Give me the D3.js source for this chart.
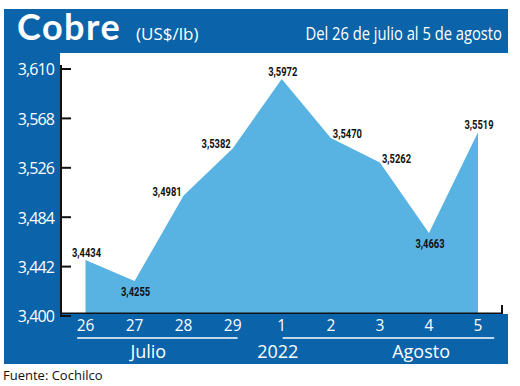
<!DOCTYPE html>
<html>
<head>
<meta charset="utf-8">
<script src="https://cdn.jsdelivr.net/npm/d3@7"></script>
<style>
  body { margin: 0; background: #fff; }
  text { font-family: "Open Sans", "Noto Sans", sans-serif; }
</style>
</head>
<body>
<div id="chart"></div>
<script>
var days = ["26", "27", "28", "29", "1", "2", "3", "4", "5"];
var prices = [3.4434, 3.4255, 3.4981, 3.5382, 3.5972, 3.5470, 3.5262, 3.4663, 3.5519];
var yTicks = [3.400, 3.442, 3.484, 3.526, 3.568, 3.610];
var groupLabels = ["Julio", "2022", "Agosto"];

var cfg = { width: 520, height: 386, blue: "#0b63aa", area: "#58b3e2" };

// where each value label sits relative to its point
var labelPos = ["above", "below", "left", "left", "above", "right", "right", "below", "above"];

var svg = d3.select("#chart").append("svg")
    .attr("width", cfg.width)
    .attr("height", cfg.height);

// blue frame: header, left column
svg.append("rect").attr("x", 4).attr("y", 9).attr("width", 504).attr("height", 44).attr("fill", cfg.blue);
svg.append("rect").attr("x", 4).attr("y", 9).attr("width", 56).attr("height", 355).attr("fill", cfg.blue);

var x = d3.scalePoint().domain(days).range([85.5, 478]);
// same range as x, but by index so that in-between spots can be used
var xi = d3.scaleLinear().domain([0, days.length - 1]).range([85.5, 478]);
var y = d3.scaleLinear().domain([3.400, 3.610]).range([311, 64]);
var fmt = function(v, n) { return d3.format("." + n + "f")(v).replace(".", ","); };

var area = d3.area()
    .x(function(d, i) { return x(days[i]); })
    .y0(314)
    .y1(function(d) { return y(d); });

svg.append("path")
    .datum(prices)
    .attr("d", area)
    .attr("fill", cfg.area);

// bottom axis line with small end tick
svg.append("path")
    .attr("d", "M60,313.5H502V305")
    .attr("fill", "none").attr("stroke", "#111").attr("stroke-width", 2);

// bottom band
svg.append("rect").attr("x", 4).attr("y", 314).attr("width", 504).attr("height", 50).attr("fill", cfg.blue);

// y axis (sits a few px lower than the plotted area, as in the original)
var yAxis = svg.append("g").attr("transform", "translate(61,5)");
yAxis.append("line").attr("x1", 0).attr("x2", 0).attr("y1", y(3.61) - 4).attr("y2", y(3.40))
    .attr("stroke", "#111").attr("stroke-width", 2);
yAxis.selectAll(".tick").data(yTicks).enter().append("line")
    .attr("x1", -1).attr("x2", 10)
    .attr("y1", function(d) { return y(d); }).attr("y2", function(d) { return y(d); })
    .attr("stroke", "#111").attr("stroke-width", 2);
yAxis.selectAll(".tl").data(yTicks).enter().append("text")
    .attr("x", -7).attr("y", function(d) { return y(d); })
    .attr("dy", "0.4em")
    .attr("text-anchor", "end")
    .attr("fill", "#fff")
    .style("font-size", "16px")
    .style("letter-spacing", "-0.9px")
    .text(function(d) { return fmt(d, 3); });

svg.selectAll(".day").data(days).enter().append("text")
    .attr("x", function(d) { return x(d); })
    .attr("y", 331)
    .attr("text-anchor", "middle")
    .attr("fill", "#fff")
    .style("font-size", "15.5px")
    .text(function(d) { return d; });

// month rules
svg.append("line").attr("x1", xi(-0.17)).attr("x2", xi(3.1)).attr("y1", 338).attr("y2", 338)
    .attr("stroke", "#fff").attr("stroke-width", 1.5);
svg.append("line").attr("x1", xi(4.02)).attr("x2", xi(8.33)).attr("y1", 338).attr("y2", 338)
    .attr("stroke", "#fff").attr("stroke-width", 1.5);

var groupAt = [1.28, 3.92, 6.84];
svg.selectAll(".grp").data(groupLabels).enter().append("text")
    .attr("x", function(d, i) { return xi(groupAt[i]); })
    .attr("y", 358)
    .attr("text-anchor", "middle")
    .attr("fill", "#fff")
    .style("font-size", "18px")
    .text(function(d) { return d; });

// value labels (condensed look by squeezing horizontally)
svg.selectAll(".val").data(prices).enter().append("text")
    .attr("transform", function(d, i) {
      var p = labelPos[i], px = x(days[i]), py = y(d);
      if (p === "left") px -= 2;
      else if (p === "right") px += 2;
      else px += 1;
      if (p === "above") py -= 3;
      else if (p === "below") py += 15;
      return "translate(" + px + "," + py + ") scale(0.78,1)";
    })
    .attr("text-anchor", function(d, i) {
      var p = labelPos[i];
      return p === "left" ? "end" : p === "right" ? "start" : "middle";
    })
    .attr("fill", "#111")
    .style("font-family", "Roboto, sans-serif")
    .style("font-size", "12px")
    .style("font-weight", "bold")
    .text(function(d) { return fmt(d, 4); });

// header
svg.append("text").attr("x", 17).attr("y", 40)
    .attr("fill", "#fff")
    .style("font-family", "Lato, sans-serif")
    .style("font-size", "36px")
    .style("font-weight", "bold")
    .style("letter-spacing", "1.5px")
    .text("Cobre");
svg.append("text").attr("x", 136).attr("y", 40)
    .attr("fill", "#fff")
    .style("font-size", "17px")
    .text("(US$/lb)");
svg.append("text")
    .attr("transform", "translate(502,40) scale(0.82,1)")
    .attr("text-anchor", "end")
    .attr("fill", "#fff")
    .style("font-size", "18px")
    .text("Del 26 de julio al 5 de agosto");

svg.append("text").attr("x", 3).attr("y", 380)
    .attr("fill", "#111")
    .style("font-size", "13px")
    .text("Fuente: Cochilco");
</script>
</body>
</html>
